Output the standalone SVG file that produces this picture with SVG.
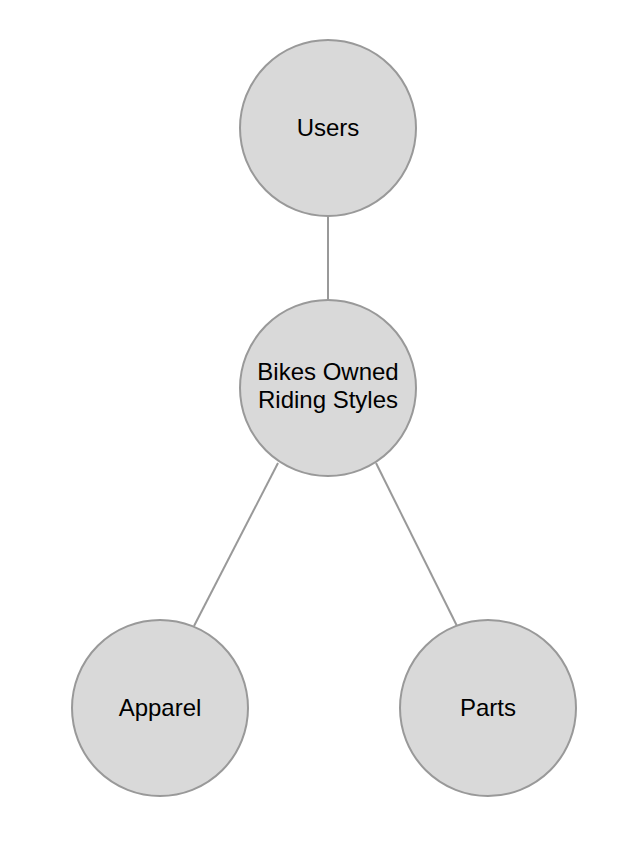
<svg xmlns="http://www.w3.org/2000/svg" width="644" height="848" viewBox="0 0 644 848">
<style>
.node circle{fill:#d9d9d9;stroke:#999999;stroke-width:2}
.node text{font-family:"Liberation Sans",Arial,sans-serif;font-size:24px;fill:#000;text-anchor:middle}
.edges line{stroke:#999999;stroke-width:2}
</style>
<rect width="644" height="848" fill="#ffffff"/>
<g class="edges" id="connectors">
<line x1="328" y1="216" x2="328" y2="300"/>
<line x1="278" y1="463" x2="194" y2="626"/>
<line x1="376" y1="463" x2="457" y2="626"/>
</g>
<g class="node" id="users">
<circle cx="328" cy="128" r="88"/>
<text x="328" y="136">Users</text>
</g>
<g class="node" id="bikes">
<circle cx="328" cy="388" r="88"/>
<text x="328" y="380">Bikes Owned</text>
<text x="328" y="408">Riding Styles</text>
</g>
<g class="node" id="apparel">
<circle cx="160" cy="708" r="88"/>
<text x="160" y="716">Apparel</text>
</g>
<g class="node" id="parts">
<circle cx="488" cy="708" r="88"/>
<text x="488" y="716">Parts</text>
</g>
</svg>
